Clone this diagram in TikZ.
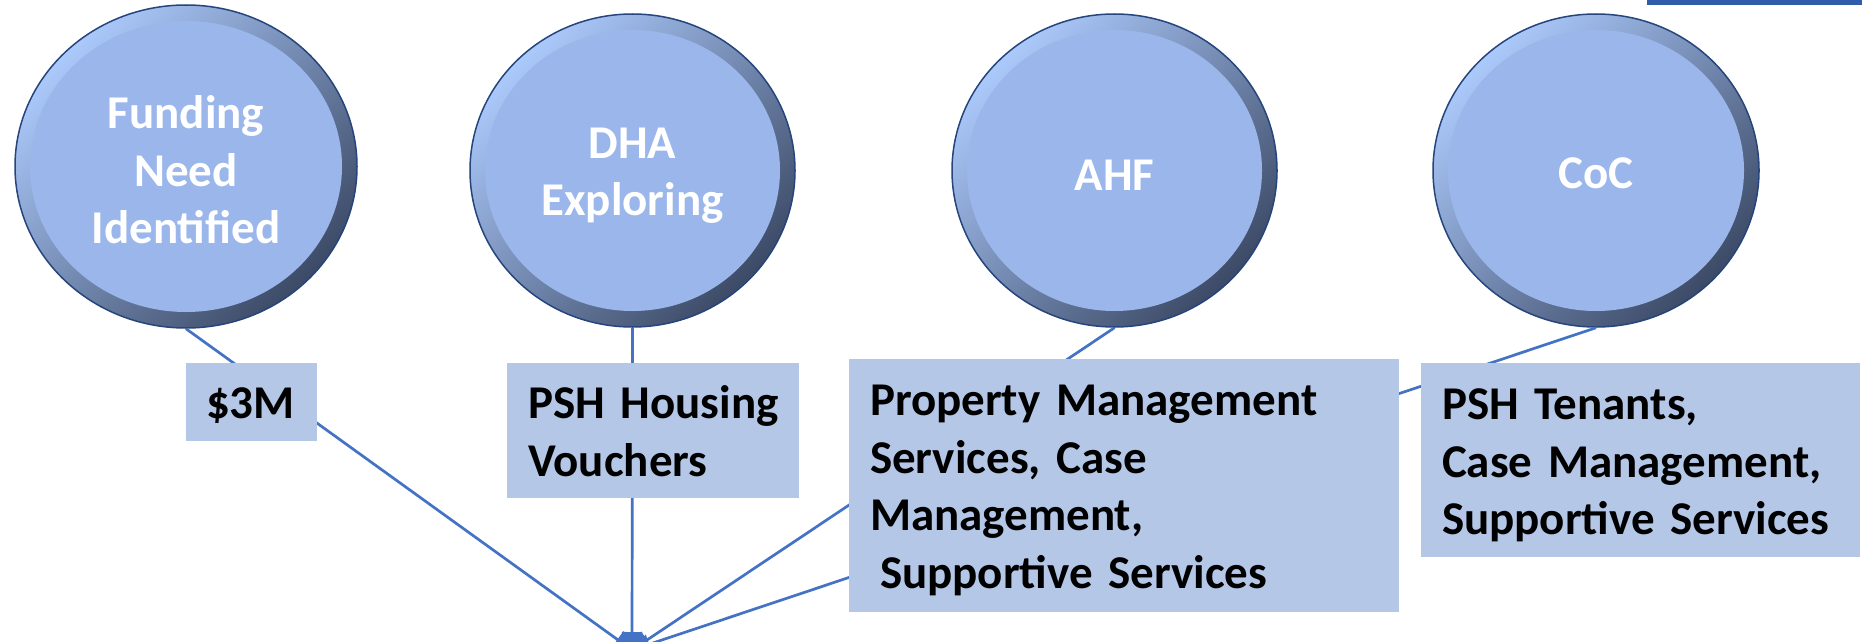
\documentclass[tikz,border=0pt]{standalone}
\usepackage{fontspec}
\setmainfont{Carlito}
\usetikzlibrary{shapes.geometric,arrows.meta}
\definecolor{lineblue}{HTML}{4472C4}
\definecolor{boxblue}{HTML}{B4C7E7}
\definecolor{innerblue}{HTML}{9BB6EA}
\definecolor{ringlight}{HTML}{ABC9FB}
\definecolor{ringdark}{HTML}{3C4A66}
\definecolor{ringline}{HTML}{26457C}
\definecolor{barblue}{HTML}{2F5DAA}
\newcommand\myrule[1]{\rule{0pt}{#1pt}}
\begin{document}
\begin{tikzpicture}[x=1pt,y=-1pt,
  bub/.style 2 args={ellipse, minimum width=#1pt, minimum height=#2pt, inner sep=0pt,
    draw=ringline, line width=1.5pt, shading=axis, top color=ringlight, bottom color=ringdark,
    shading angle=45, text=white, font=\bfseries\fontsize{47}{57.5}\selectfont, align=center,
    path picture={\fill[innerblue] (path picture bounding box.center) ellipse [x radius=#1pt/2-15pt, y radius=#2pt/2-16pt];}},
  infobox/.style n args={3}{rectangle, fill=boxblue, minimum width=#1pt, minimum height=#2pt,
    text width=#1pt-2*#3pt, inner xsep=#3pt, inner ysep=0pt, align=left, text=black,
    font=\bfseries\fontsize{47}{57.5}\selectfont},
  conn/.style={draw=lineblue, line width=2.7pt, -{Triangle[length=18pt,width=20pt]}}
]
\useasboundingbox (0,0) rectangle (1862,642);
\clip (0,0) rectangle (1862,642);
\fill[white] (0,0) rectangle (1862,642);

\coordinate (T) at (632,650);

\node[bub={342}{323}] (c1) at (186,166.5) {\myrule{40}Funding\\Need\\Identified};
\node[bub={325}{313}] (c2) at (632.5,170.5) {\myrule{41}DHA\\Exploring};
\node[bub={325}{313}] (c3) at (1114.5,170.5) {\myrule{39}AHF};
\node[bub={326}{313}] (c4) at (1596,170.5) {\myrule{36}CoC};

\draw[conn] (c1.south) -- (T);
\draw[conn] (c2.south) -- (T);
\draw[conn] (c3.south) -- (T);
\draw[conn] (c4.south) -- (T);

\node[infobox={131}{78}{20}] (b1) at (251.5,402) {\myrule{37}\$3M};
\node[infobox={292}{135}{21}] (b2) at (653,430.5) {\myrule{34}\mbox{PSH Housing}\\Vouchers};
\node[infobox={550}{253}{21}] (b3) at (1124,485.5) {\myrule{40}\mbox{Property Management}\\Services, Case\\Management,\\\hspace*{10pt}\mbox{Supportive Services}};
\node[infobox={439}{194}{21}] (b4) at (1640.5,460) {\myrule{42}\mbox{PSH Tenants,}\\\mbox{Case Management,}\\\mbox{Supportive Services}};

\fill[barblue] (1647,0) rectangle (1862,5);
\end{tikzpicture}
\end{document}
